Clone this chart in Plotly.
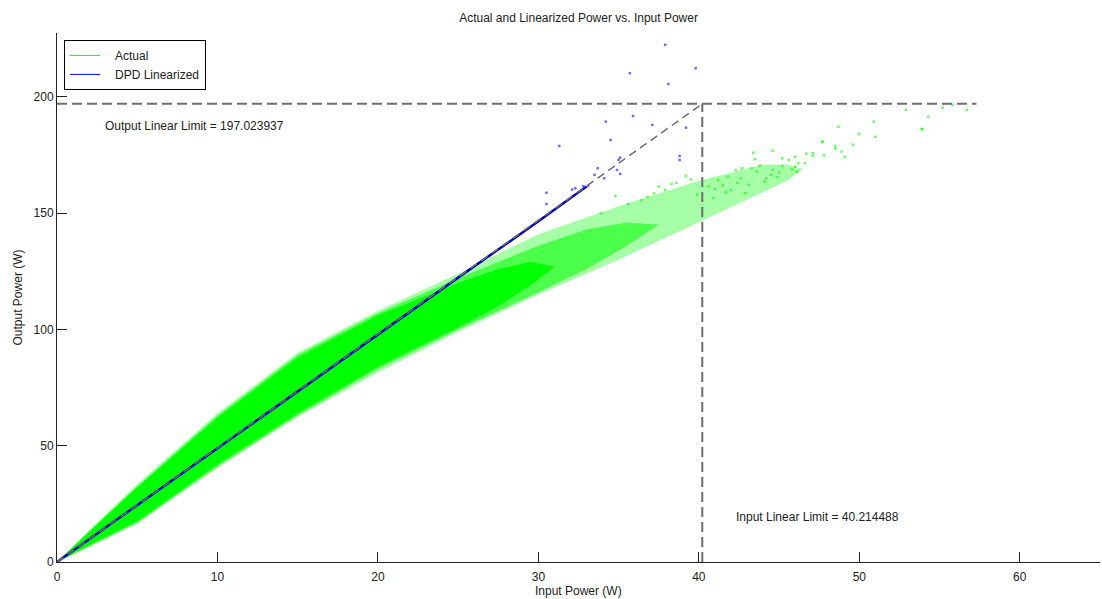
import plotly.graph_objects as go

# ---- data ----
# outer (sparse) envelope of the "Actual" cloud
outer_x = [0, 2.5, 5, 10, 15, 20, 25, 30, 35, 40, 44, 45.5, 46.5]
outer_hi = [0, 17, 33.5, 64, 90, 108, 124, 141, 153, 164, 171, 171, 169]
outer_lo = [0, 8, 16.5, 40.5, 62.5, 81.5, 99, 115, 130, 146, 159, 164, 169]
# medium-density part of the cloud
mid_x = [0, 2.5, 5, 10, 15, 20, 25, 30, 33, 35.5, 37.5]
mid_hi = [0, 16.5, 32.5, 63, 89, 107, 122, 136, 143, 146, 145]
mid_lo = [0, 8.5, 17, 41, 63, 83, 100, 116, 126, 136, 145]
# dense (solid) core of the cloud
core_x = [0, 2.5, 5, 10, 15, 20, 25, 27.5, 29.5, 31]
core_hi = [0, 16, 32, 62, 88, 106, 120, 126, 129, 127]
core_lo = [0, 9, 17.5, 42, 64, 84, 101, 110, 119, 127]
# sparse "Actual" points at high input power
sparse_x = [48.7, 50.9, 53.9, 50.0, 51.0, 47.7, 49.6, 48.5, 48.5, 48.9, 49.1, 47.8,
            47.1, 47.1, 46.7, 46.0, 45.6, 45.2, 45.2, 46.2, 46.6, 46.0, 46.1, 44.6,
            43.4, 43.5, 44.6, 44.5, 43.3, 42.7, 42.3, 41.8, 41.2, 42.6, 43.1, 42.9,
            43.6, 44.1, 52.9, 55.2, 55.8, 56.7, 54.3, 53.9, 47.7, 41.0, 41.5, 42.0,
            40.6, 40.9, 44.9, 45.8, 39.5, 38.6, 37.9, 37.2, 36.4, 35.6, 38.3, 39.9,
            41.7, 42.4, 43.8, 44.2, 45.0, 39.2, 37.5, 36.8, 34.8, 33.9]
sparse_y = [187.2, 189.4, 186.2, 184.1, 182.9, 180.6, 179.5, 178.9, 177.8, 176.5, 174.3, 174.8,
            175.8, 174.6, 175.6, 174.3, 172.9, 173.6, 170.3, 171.5, 171.5, 170.0, 167.9, 176.9,
            176.0, 173.3, 168.6, 166.5, 169.3, 169.3, 168.6, 165.7, 164.3, 165.0, 162.2, 158.6,
            167.9, 163.6, 194.4, 195.4, 196.6, 194.4, 191.5, 186.2, 180.8, 160.5, 162.0, 160.0,
            161.5, 156.5, 165.5, 168.8, 164.5, 163.0, 160.0, 158.5, 155.5, 154.0, 162.5, 158.0,
            159.0, 163.0, 170.5, 165.0, 167.5, 166.0, 161.5, 157.0, 157.5, 150.0]
# DPD linearized: dense line and sparse outliers
lin_x = [0, 5, 10, 15, 20, 25, 30, 33]
lin_y = [0, 24.5, 49, 73.5, 98, 122.3, 146.5, 161.5]
out_x = [37.9, 39.8, 35.7, 38.1, 35.9, 34.2, 37.1, 39.2, 34.5, 31.3, 35.1, 38.8, 38.8,
         34.9, 35.1, 34.1, 33.7, 33.5, 33.1, 32.8, 32.3, 32.1, 30.5, 30.5, 35.0]
out_y = [222.4, 212.3, 210.2, 205.6, 191.8, 189.4, 188.0, 186.8, 181.5, 178.9, 173.9, 174.6, 172.9,
         168.6, 166.9, 165.0, 169.3, 166.5, 161.7, 161.7, 160.7, 160.2, 158.8, 154.0, 173.0]
# linear limits
in_limit = 40.214488
out_limit = 197.023937
x_end = 57.3

fig = go.Figure()

def band(xs, hi, lo, color):
    return go.Scatter(x=xs + xs[::-1], y=hi + lo[::-1], fill="toself", mode="lines",
                      line=dict(width=0), fillcolor=color, hoverinfo="skip", showlegend=False)

fig.add_trace(band(outer_x, outer_hi, outer_lo, "rgba(0,255,0,0.35)"))
fig.add_trace(band(mid_x, mid_hi, mid_lo, "rgba(0,255,0,0.55)"))
fig.add_trace(band(core_x, core_hi, core_lo, "rgb(0,255,0)"))
fig.add_trace(go.Scatter(x=sparse_x, y=sparse_y, mode="markers", showlegend=False,
                         marker=dict(symbol="square", size=2.5, color="rgba(0,255,0,0.6)", line=dict(width=0))))

fig.add_trace(go.Scatter(x=lin_x, y=lin_y, mode="lines", showlegend=False,
                         line=dict(color="rgb(0,0,190)", width=2.5)))
fig.add_trace(go.Scatter(x=out_x, y=out_y, mode="markers", showlegend=False,
                         marker=dict(symbol="square", size=2.5, color="rgba(60,60,255,0.75)", line=dict(width=0))))

dash_line = dict(color="rgb(110,110,110)", width=2, dash="10px,5px")
fig.add_trace(go.Scatter(x=[0, in_limit], y=[0, out_limit], mode="lines", showlegend=False,
                         line=dict(color="rgb(110,110,110)", width=1.5, dash="8px,5px")))
fig.add_trace(go.Scatter(x=[0, x_end], y=[out_limit, out_limit], mode="lines", showlegend=False, line=dash_line))
fig.add_trace(go.Scatter(x=[in_limit, in_limit], y=[0, out_limit], mode="lines", showlegend=False, line=dash_line))

# legend entries
fig.add_trace(go.Scatter(x=[None], y=[None], mode="lines", name="&nbsp;&nbsp;&nbsp;Actual",
                         line=dict(color="rgb(0,255,0)", width=1)))
fig.add_trace(go.Scatter(x=[None], y=[None], mode="lines", name="&nbsp;&nbsp;&nbsp;DPD Linearized",
                         line=dict(color="rgb(0,0,255)", width=1)))

font = dict(family="Liberation Sans, Arial, sans-serif", size=12, color="#222")
fig.add_annotation(x=2.87, y=187.5, text="Output Linear Limit = %.6f" % out_limit,
                   showarrow=False, xanchor="left", yanchor="middle", font=font)
fig.add_annotation(x=42.17, y=19.4, text="Input Linear Limit = %.6f" % in_limit,
                   showarrow=False, xanchor="left", yanchor="middle", font=font)
fig.add_annotation(x=0.5, y=-0.0548, xref="paper", yref="paper", text="Input Power (W)",
                   showarrow=False, xanchor="center", yanchor="middle", font=font)
fig.add_annotation(x=-0.0374, y=0.5, xref="paper", yref="paper", text="Output Power (W)",
                   showarrow=False, textangle=-90, xanchor="center", yanchor="middle", font=font)

axis_common = dict(showgrid=False, zeroline=False, showline=True, linecolor="#222", linewidth=1,
                   ticks="inside", ticklen=10, tickcolor="#222", tickwidth=1, mirror=False,
                   tickfont=font)
fig.update_layout(
    width=1102, height=599,
    margin=dict(l=57, r=2, t=33, b=37),
    paper_bgcolor="white", plot_bgcolor="white",
    font=font,
    title=dict(text="Actual and Linearized Power vs. Input Power", x=0.525, xanchor="center",
               y=1 - 18 / 599, yanchor="middle", yref="container", font=font),
    xaxis=dict(range=[0, 65], tickvals=[0, 10, 20, 30, 40, 50, 60], ticklabelstandoff=4, **axis_common),
    yaxis=dict(range=[0, 227.5], tickvals=[0, 50, 100, 150, 200], **axis_common),
    legend=dict(x=0.0067, y=0.987, xanchor="left", yanchor="top", bgcolor="white",
                bordercolor="black", borderwidth=1, font=font, tracegroupgap=0),
    showlegend=True,
)

fig.write_html("out.html")
